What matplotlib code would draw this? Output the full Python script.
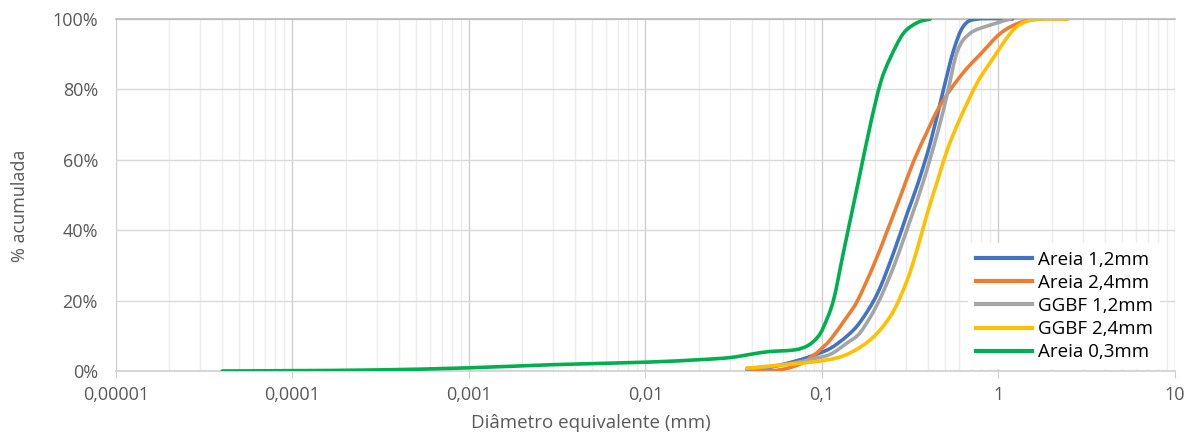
import matplotlib
matplotlib.use("Agg")
import numpy as np
import matplotlib.pyplot as plt
from matplotlib.path import Path
from matplotlib.patches import PathPatch
from matplotlib.lines import Line2D
from matplotlib.ticker import FixedLocator, NullFormatter, FuncFormatter, MultipleLocator

plt.rcParams['font.family'] = ['Open Sans', 'DejaVu Sans']

# diametro (mm) e % acumulada de cada amostra
areia12_d = [0.0375, 0.05, 0.073, 0.09, 0.112, 0.139, 0.165, 0.206, 0.254, 0.305, 0.348, 0.412, 0.488, 0.556, 0.634, 0.76, 1.2]
areia12_p = [0.5, 1.0, 3.0, 4.5, 6.5, 10.0, 14.0, 22.0, 33.5, 45.0, 53.0, 65.0, 80.0, 91.0, 98.0, 100.0, 100.0]

areia24_d = [0.0378, 0.053, 0.073, 0.09, 0.1, 0.112, 0.139, 0.159, 0.196, 0.235, 0.28, 0.33, 0.39, 0.45, 0.535, 0.65, 0.79, 1.03, 1.33, 1.73, 2.46]
areia24_p = [0.8, 0.1, 1.7, 4.5, 6.5, 9.0, 15.5, 20.0, 30.0, 40.0, 50.0, 59.5, 67.5, 74.0, 80.0, 85.5, 90.0, 96.0, 99.0, 100.0, 100.0]

ggbf12_d = [0.0375, 0.05, 0.073, 0.09, 0.112, 0.139, 0.165, 0.206, 0.254, 0.317, 0.376, 0.451, 0.514, 0.586, 0.694, 0.9, 1.17]
ggbf12_p = [0.6, 1.2, 2.5, 3.5, 4.8, 8.0, 11.0, 19.0, 29.5, 43.0, 54.0, 67.6, 79.0, 91.0, 96.0, 98.3, 100.0]

ggbf24_d = [0.0375, 0.058, 0.09, 0.127, 0.165, 0.206, 0.254, 0.305, 0.348, 0.396, 0.451, 0.514, 0.609, 0.76, 0.937, 1.17, 1.39, 1.73, 2.46]
ggbf24_p = [0.8, 1.7, 2.6, 4.0, 6.8, 10.8, 17.0, 26.0, 35.0, 45.0, 54.0, 63.0, 72.0, 82.0, 89.0, 96.0, 99.0, 100.0, 100.0]

areia03_d = [0.00004, 0.0001, 0.0003, 0.001, 0.003, 0.01, 0.02, 0.03, 0.04, 0.05, 0.07, 0.083, 0.094, 0.102, 0.116, 0.132, 0.149, 0.161, 0.188, 0.215, 0.244, 0.29, 0.348, 0.41]
areia03_p = [0.0, 0.1, 0.3, 0.9, 1.8, 2.5, 3.2, 3.8, 4.8, 5.5, 6.0, 7.2, 9.5, 12.5, 20.0, 33.5, 46.0, 54.0, 70.0, 82.0, 89.0, 96.0, 99.0, 100.0]

labels = ["Areia 1,2mm", "Areia 2,4mm", "GGBF 1,2mm", "GGBF 2,4mm", "Areia 0,3mm"]
colors = ["#4472C4", "#ED7D31", "#A5A5A5", "#FFC000", "#00B050"]
diam = [areia12_d, areia24_d, ggbf12_d, ggbf24_d, areia03_d]
perc = [areia12_p, areia24_p, ggbf12_p, ggbf24_p, areia03_p]

x_major = [1e-5, 1e-4, 1e-3, 1e-2, 1e-1, 1, 10]


def smooth_path(d, p):
    # curva suavizada (Catmull-Rom -> Bezier) em log10(d)
    lx = np.log10(d)
    y = np.asarray(p, dtype=float)
    n = len(lx)
    verts = [(d[0], y[0])]
    codes = [Path.MOVETO]
    for i in range(n - 1):
        i0 = max(i - 1, 0)
        i3 = min(i + 2, n - 1)
        c1x = lx[i] + (lx[i + 1] - lx[i0]) / 6
        c1y = y[i] + (y[i + 1] - y[i0]) / 6
        c2x = lx[i + 1] - (lx[i3] - lx[i]) / 6
        c2y = y[i + 1] - (y[i3] - y[i]) / 6
        verts += [(10 ** c1x, c1y), (10 ** c2x, c2y), (d[i + 1], y[i + 1])]
        codes += [Path.CURVE4] * 3
    return Path(verts, codes)


fig = plt.figure(figsize=(11.88, 4.32), dpi=100)
ax = fig.add_axes([116 / 1188, 61 / 432, (1175 - 116) / 1188, (371 - 19) / 432])

ax.set_xscale('log')
ax.set_xlim(1e-5, 10)
ax.set_ylim(0, 100)

handles = []
for lab, d, p, c in zip(labels, diam, perc, colors):
    patch = PathPatch(smooth_path(d, p), facecolor='none', edgecolor=c, lw=2.6,
                      joinstyle='round', capstyle='round', zorder=3)
    ax.add_patch(patch)
    handles.append(Line2D([], [], color=c, lw=3, label=lab))

x_minor = [m * v for v in x_major[:-1] for m in range(2, 10)]
ax.xaxis.set_major_locator(FixedLocator(x_major))
ax.xaxis.set_minor_locator(FixedLocator(x_minor))
ax.xaxis.set_minor_formatter(NullFormatter())


def fmt_x(v, pos):
    s = ('%.5f' % v).rstrip('0').rstrip('.')
    return s.replace('.', ',')


ax.xaxis.set_major_formatter(FuncFormatter(fmt_x))
ax.yaxis.set_major_locator(MultipleLocator(20))
ax.yaxis.set_major_formatter(FuncFormatter(lambda v, pos: '%d%%' % v))

ax.grid(True, which='major', axis='x', color='#cfcfcf', lw=1.0, zorder=0)
ax.grid(True, which='minor', axis='x', color='#ededed', lw=1.0, zorder=0)
ax.grid(True, which='major', axis='y', color='#d9d9d9', lw=1.0, zorder=0)
ax.set_axisbelow(True)

for side in ['left', 'right']:
    ax.spines[side].set_visible(False)
ax.spines['top'].set_color('#b8b8b8')
ax.spines['bottom'].set_color('#cfcfcf')
ax.spines['top'].set_linewidth(1.2)
ax.spines['bottom'].set_linewidth(1.2)

ax.tick_params(axis='x', which='major', length=5, color='#cfcfcf', labelsize=13, labelcolor='#595959', pad=6)
ax.tick_params(axis='x', which='minor', length=0)
ax.tick_params(axis='y', length=0, labelsize=13, labelcolor='#595959', pad=13)

ax.set_xlabel('Diâmetro equivalente (mm)', fontsize=13.5, color='#595959')
ax.xaxis.label.set_va('center')
ax.xaxis.set_label_coords((591 - 116) / 1059, (371 - 423) / 352)
ax.set_ylabel('% acumulada', fontsize=13, color='#595959')
ax.yaxis.label.set_va('center')
ax.yaxis.set_label_coords((20 - 116) / 1059, (371 - 206) / 352)

ax.legend(handles=handles, loc='lower right', bbox_to_anchor=(0.995, -0.02), fontsize=13.5, frameon=True,
          fancybox=False, edgecolor='none', facecolor='white', framealpha=1,
          handlelength=3.0, handletextpad=0.3, labelspacing=0.27, borderpad=0.4)

fig.savefig('out.png', dpi=100)
